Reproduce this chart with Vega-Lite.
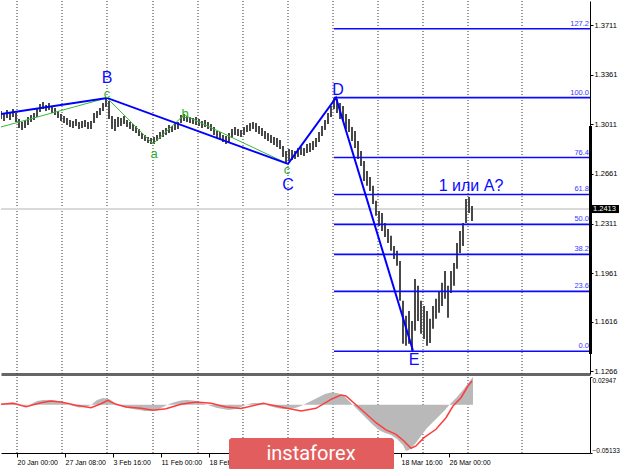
{
  "$schema": "https://vega.github.io/schema/vega-lite/v6.json",
  "padding": 0,
  "background": "white",
  "spacing": 1,
  "config": {
    "view": {"stroke": null},
    "font": "Liberation Sans",
    "axis": {"labelFont": "Liberation Sans", "labelFontSize": 7.5, "labelColor": "#000", "domainColor": "#000", "tickColor": "#000"}
  },
  "datasets": {
    "grid": [{"g":16},{"g":61},{"g":106},{"g":152},{"g":197},{"g":242},{"g":287},{"g":332},{"g":377},{"g":422},{"g":467},{"g":521}],
    "fib": [{"lvl":"127.2","p":1.3687},{"lvl":"100.0","p":1.3200},{"lvl":"76.4","p":1.2777},{"lvl":"61.8","p":1.2516},{"lvl":"50.0","p":1.2305},{"lvl":"38.2","p":1.2093},{"lvl":"23.6","p":1.1832},{"lvl":"0.0","p":1.1409}],
    "wave": [{"i":0,"p":1.3085},{"i":106,"p":1.3198},{"i":287,"p":1.2732},{"i":335,"p":1.3200},{"i":412,"p":1.1412}],
    "sub": [{"i":0,"p":1.2993},{"i":106,"p":1.3198},{"i":152,"p":1.2873},{"i":183,"p":1.3078},{"i":287,"p":1.2732}],
    "waveLabels": [{"t":"B","i":106,"p":1.3342},{"t":"C","i":287,"p":1.2580},{"t":"D","i":337,"p":1.3254},{"t":"E","i":413,"p":1.1348},{"t":"1 или A?","i":470,"p":1.2577}],
    "subLabels": [{"t":"c","i":106,"p":1.3224},{"t":"a","i":153,"p":1.2802},{"t":"b","i":184,"p":1.3085},{"t":"c","i":286,"p":1.2692}],
    "bars": [
      {"i":0,"h":1.3106,"l":1.3050},{"i":3,"h":1.3092,"l":1.3035},{"i":6,"h":1.3113,"l":1.3057},{"i":9,"h":1.3099,"l":1.3042},
      {"i":12,"h":1.3120,"l":1.3064},{"i":15,"h":1.3092,"l":1.3028},{"i":18,"h":1.3050,"l":1.2986},{"i":21,"h":1.3028,"l":1.2972},
      {"i":24,"h":1.3042,"l":1.2986},{"i":27,"h":1.3064,"l":1.3007},{"i":30,"h":1.3078,"l":1.3028},{"i":33,"h":1.3092,"l":1.3042},
      {"i":36,"h":1.3120,"l":1.3064},{"i":39,"h":1.3155,"l":1.3099},{"i":42,"h":1.3170,"l":1.3120},{"i":45,"h":1.3148,"l":1.3106},
      {"i":48,"h":1.3162,"l":1.3113},{"i":51,"h":1.3141,"l":1.3092},{"i":54,"h":1.3127,"l":1.3078},{"i":57,"h":1.3106,"l":1.3057},
      {"i":60,"h":1.3085,"l":1.3035},{"i":63,"h":1.3071,"l":1.3021},{"i":66,"h":1.3057,"l":1.3007},{"i":69,"h":1.3042,"l":1.2993},
      {"i":72,"h":1.3035,"l":1.2986},{"i":75,"h":1.3050,"l":1.3000},{"i":78,"h":1.3028,"l":1.2979},{"i":81,"h":1.3035,"l":1.2986},
      {"i":84,"h":1.3042,"l":1.2993},{"i":87,"h":1.3028,"l":1.2979},{"i":90,"h":1.3035,"l":1.2979},{"i":93,"h":1.3092,"l":1.3021},
      {"i":96,"h":1.3106,"l":1.3057},{"i":99,"h":1.3127,"l":1.3078},{"i":102,"h":1.3162,"l":1.3106},{"i":105,"h":1.3205,"l":1.3134},
      {"i":108,"h":1.3177,"l":1.3050},{"i":111,"h":1.3071,"l":1.2979},{"i":114,"h":1.3050,"l":1.2965},{"i":117,"h":1.3064,"l":1.2993},
      {"i":120,"h":1.3057,"l":1.3000},{"i":123,"h":1.3071,"l":1.3014},{"i":126,"h":1.3042,"l":1.2993},{"i":129,"h":1.3028,"l":1.2979},
      {"i":132,"h":1.3014,"l":1.2965},{"i":135,"h":1.3000,"l":1.2951},{"i":138,"h":1.2979,"l":1.2930},{"i":141,"h":1.2951,"l":1.2908},
      {"i":144,"h":1.2937,"l":1.2894},{"i":147,"h":1.2922,"l":1.2880},{"i":150,"h":1.2915,"l":1.2873},{"i":153,"h":1.2922,"l":1.2873},
      {"i":156,"h":1.2937,"l":1.2894},{"i":159,"h":1.2958,"l":1.2908},{"i":162,"h":1.2972,"l":1.2922},{"i":165,"h":1.2986,"l":1.2937},
      {"i":168,"h":1.3007,"l":1.2951},{"i":171,"h":1.3000,"l":1.2958},{"i":174,"h":1.3021,"l":1.2972},{"i":177,"h":1.3028,"l":1.2979},
      {"i":180,"h":1.3078,"l":1.3021},{"i":183,"h":1.3085,"l":1.3035},{"i":186,"h":1.3071,"l":1.3028},{"i":189,"h":1.3064,"l":1.3021},
      {"i":192,"h":1.3057,"l":1.3014},{"i":195,"h":1.3064,"l":1.3007},{"i":198,"h":1.3050,"l":1.3000},{"i":201,"h":1.3035,"l":1.2986},
      {"i":204,"h":1.3042,"l":1.2993},{"i":207,"h":1.3028,"l":1.2979},{"i":210,"h":1.3014,"l":1.2965},{"i":213,"h":1.2993,"l":1.2937},
      {"i":216,"h":1.2965,"l":1.2915},{"i":219,"h":1.2958,"l":1.2908},{"i":222,"h":1.2937,"l":1.2887},{"i":225,"h":1.2930,"l":1.2873},
      {"i":228,"h":1.2951,"l":1.2880},{"i":231,"h":1.2979,"l":1.2915},{"i":234,"h":1.2993,"l":1.2937},{"i":237,"h":1.2979,"l":1.2930},
      {"i":240,"h":1.2972,"l":1.2922},{"i":243,"h":1.2993,"l":1.2937},{"i":246,"h":1.3007,"l":1.2958},{"i":249,"h":1.3021,"l":1.2965},
      {"i":252,"h":1.3028,"l":1.2979},{"i":255,"h":1.3021,"l":1.2958},{"i":258,"h":1.3000,"l":1.2944},{"i":261,"h":1.2986,"l":1.2930},
      {"i":264,"h":1.2965,"l":1.2908},{"i":267,"h":1.2951,"l":1.2894},{"i":270,"h":1.2937,"l":1.2880},{"i":273,"h":1.2922,"l":1.2866},
      {"i":276,"h":1.2915,"l":1.2852},{"i":279,"h":1.2901,"l":1.2838},{"i":282,"h":1.2859,"l":1.2781},{"i":285,"h":1.2824,"l":1.2732},
      {"i":288,"h":1.2838,"l":1.2753},{"i":291,"h":1.2831,"l":1.2760},{"i":294,"h":1.2824,"l":1.2767},{"i":297,"h":1.2845,"l":1.2781},
      {"i":300,"h":1.2852,"l":1.2795},{"i":303,"h":1.2845,"l":1.2788},{"i":306,"h":1.2873,"l":1.2809},{"i":309,"h":1.2880,"l":1.2817},
      {"i":312,"h":1.2894,"l":1.2831},{"i":315,"h":1.2915,"l":1.2852},{"i":318,"h":1.2958,"l":1.2887},{"i":321,"h":1.3000,"l":1.2930},
      {"i":324,"h":1.3042,"l":1.2972},{"i":327,"h":1.3092,"l":1.3014},{"i":330,"h":1.3141,"l":1.3064},{"i":333,"h":1.3198,"l":1.3120},
      {"i":336,"h":1.3191,"l":1.3092},{"i":339,"h":1.3162,"l":1.3050},{"i":342,"h":1.3141,"l":1.3035},{"i":345,"h":1.3085,"l":1.2979},
      {"i":348,"h":1.3050,"l":1.2958},{"i":351,"h":1.2993,"l":1.2894},{"i":354,"h":1.2965,"l":1.2845},{"i":357,"h":1.2894,"l":1.2767},
      {"i":360,"h":1.2824,"l":1.2718},{"i":363,"h":1.2753,"l":1.2612},{"i":366,"h":1.2682,"l":1.2577},{"i":369,"h":1.2640,"l":1.2541},
      {"i":372,"h":1.2577,"l":1.2449},{"i":375,"h":1.2471,"l":1.2365},{"i":378,"h":1.2400,"l":1.2294},{"i":381,"h":1.2386,"l":1.2259},
      {"i":384,"h":1.2315,"l":1.2216},{"i":387,"h":1.2273,"l":1.2174},{"i":390,"h":1.2224,"l":1.2118},{"i":393,"h":1.2153,"l":1.2061},
      {"i":396,"h":1.2118,"l":1.2012},{"i":399,"h":1.2047,"l":1.1765},{"i":402,"h":1.1765,"l":1.1461},{"i":405,"h":1.1659,"l":1.1447},
      {"i":408,"h":1.1694,"l":1.1461},{"i":411,"h":1.1623,"l":1.1412},{"i":414,"h":1.1920,"l":1.1553},{"i":417,"h":1.1871,"l":1.1623},
      {"i":420,"h":1.1765,"l":1.1532},{"i":423,"h":1.1729,"l":1.1496},{"i":426,"h":1.1694,"l":1.1447},{"i":429,"h":1.1638,"l":1.1468},
      {"i":432,"h":1.1729,"l":1.1567},{"i":435,"h":1.1779,"l":1.1638},{"i":438,"h":1.1835,"l":1.1680},{"i":441,"h":1.1892,"l":1.1729},
      {"i":444,"h":1.1976,"l":1.1779},{"i":447,"h":1.1871,"l":1.1645},{"i":450,"h":1.1976,"l":1.1821},{"i":453,"h":1.2033,"l":1.1871},
      {"i":456,"h":1.2174,"l":1.1991},{"i":459,"h":1.2259,"l":1.2103},{"i":462,"h":1.2315,"l":1.2153},{"i":465,"h":1.2485,"l":1.2315},
      {"i":468,"h":1.2499,"l":1.2386},{"i":471,"h":1.2435,"l":1.2329}
    ],
    "macd": [
      {"i":0,"m":0.00076},{"i":6,"m":0.00183},{"i":12,"m":0.00236},{"i":18,"m":0.00076},{"i":24,"m":-0.00136},{"i":30,"m":0.00076},
      {"i":36,"m":0.00395},{"i":42,"m":0.00502},{"i":48,"m":0.00502},{"i":54,"m":0.00448},{"i":60,"m":0.00289},{"i":66,"m":0.00076},
      {"i":72,"m":-0.00136},{"i":78,"m":-0.00296},{"i":84,"m":-0.00243},{"i":90,"m":-0.00030},{"i":96,"m":0.00502},{"i":102,"m":0.00714},
      {"i":108,"m":0.00608},{"i":114,"m":0.00183},{"i":120,"m":-0.00136},{"i":126,"m":-0.00349},{"i":132,"m":-0.00455},{"i":138,"m":-0.00561},
      {"i":144,"m":-0.00668},{"i":150,"m":-0.00668},{"i":156,"m":-0.00561},{"i":162,"m":-0.00243},{"i":168,"m":0.00076},{"i":174,"m":0.00289},
      {"i":180,"m":0.00448},{"i":186,"m":0.00502},{"i":192,"m":0.00448},{"i":198,"m":0.00289},{"i":204,"m":0.00076},{"i":210,"m":-0.00136},
      {"i":216,"m":-0.00349},{"i":222,"m":-0.00455},{"i":228,"m":-0.00561},{"i":234,"m":-0.00455},{"i":240,"m":-0.00243},{"i":246,"m":0.00023},
      {"i":252,"m":0.00183},{"i":258,"m":0.00183},{"i":264,"m":0.00023},{"i":270,"m":-0.00190},{"i":276,"m":-0.00349},{"i":282,"m":-0.00455},
      {"i":288,"m":-0.00455},{"i":294,"m":-0.00349},{"i":300,"m":-0.00136},{"i":306,"m":0.00183},{"i":312,"m":0.00502},{"i":318,"m":0.00821},
      {"i":324,"m":0.01140},{"i":330,"m":0.01299},{"i":336,"m":0.01246},{"i":342,"m":0.01033},{"i":348,"m":0.00395},{"i":354,"m":-0.00243},
      {"i":360,"m":-0.00880},{"i":366,"m":-0.01518},{"i":372,"m":-0.02156},{"i":378,"m":-0.02688},{"i":384,"m":-0.03007},{"i":390,"m":-0.03220},
      {"i":396,"m":-0.03645},{"i":402,"m":-0.04283},{"i":405,"m":-0.04921},{"i":408,"m":-0.04814},{"i":414,"m":-0.04176},{"i":420,"m":-0.03326},
      {"i":426,"m":-0.02475},{"i":432,"m":-0.01837},{"i":438,"m":-0.01199},{"i":444,"m":-0.00561},{"i":450,"m":0.00183},{"i":456,"m":0.00821},
      {"i":462,"m":0.01565},{"i":468,"m":0.02415},{"i":472,"m":0.02947}
    ],
    "sig": [
      {"i":0,"s":0.00045},{"i":12,"s":0.00151},{"i":25,"s":-0.00211},{"i":40,"s":0.00215},{"i":50,"s":0.00395},{"i":60,"s":0.00289},
      {"i":75,"s":-0.00062},{"i":90,"s":-0.00317},{"i":100,"s":0.00108},{"i":107,"s":0.00470},{"i":115,"s":0.00045},{"i":125,"s":-0.00243},
      {"i":140,"s":-0.00381},{"i":152,"s":-0.00593},{"i":165,"s":-0.00423},{"i":180,"s":0.00045},{"i":195,"s":0.00289},{"i":210,"s":0.00151},
      {"i":225,"s":-0.00243},{"i":240,"s":-0.00402},{"i":262,"s":0.00151},{"i":280,"s":-0.00243},{"i":300,"s":-0.00668},{"i":315,"s":-0.00381},
      {"i":330,"s":0.00576},{"i":340,"s":0.01033},{"i":345,"s":0.00927},{"i":360,"s":-0.00487},{"i":375,"s":-0.01912},{"i":385,"s":-0.02668},
      {"i":395,"s":-0.03145},{"i":403,"s":-0.03857},{"i":410,"s":-0.04634},{"i":415,"s":-0.04389},{"i":423,"s":-0.03506},{"i":435,"s":-0.02614},
      {"i":445,"s":-0.01380},{"i":452,"s":-0.00136},{"i":460,"s":0.00746},{"i":467,"s":0.01990},{"i":471,"s":0.02522}
    ]
  },
  "vconcat": [
    {
      "width": 589,
      "height": 373,
      "layer": [
        {
          "data": {"name": "grid"},
          "mark": {"type": "rule", "color": "#333", "strokeWidth": 1, "strokeDash": [1, 2]},
          "encoding": {
            "x": {"field": "g", "type": "quantitative", "title": null,
                  "scale": {"domain": [0, 589], "nice": false, "zero": false},
                  "axis": {"orient": "bottom", "labels": false, "ticks": false, "grid": false, "domainColor": "#666", "domainWidth": 3, "title": null}}
          }
        },
        {
          "data": {"name": "fib"},
          "mark": {"type": "rule", "color": "#d8d8d8", "strokeWidth": 1.5},
          "encoding": {"y": {"datum": 1.2413, "type": "quantitative"}}
        },
        {
          "data": {"name": "bars"},
          "mark": {"type": "rule", "color": "#484848", "strokeWidth": 2, "clip": true},
          "encoding": {
            "x": {"field": "i", "type": "quantitative", "title": null},
            "y": {"field": "h", "type": "quantitative", "title": null,
                  "scale": {"domain": [1.12482, 1.38826], "nice": false, "zero": false},
                  "axis": {"orient": "right", "values": [1.3711,1.3536,1.3361,1.3186,1.3011,1.2836,1.2661,1.2486,1.2311,1.2136,1.1961,1.1791,1.1616,1.1441,1.1266],
                           "format": ".4f", "tickSize": 3, "labelPadding": 1, "grid": false, "title": null}},
            "y2": {"field": "l"}
          }
        },
        {
          "data": {"name": "fib"},
          "mark": {"type": "rule", "color": "#0a0aff", "strokeWidth": 1.6},
          "encoding": {
            "x": {"datum": 333},
            "x2": {"datum": 589},
            "y": {"field": "p", "type": "quantitative", "title": null}
          }
        },
        {
          "data": {"name": "fib"},
          "mark": {"type": "text", "color": "#3a3aff", "fontSize": 7.5, "align": "right", "baseline": "bottom", "dy": -1},
          "encoding": {
            "x": {"datum": 588},
            "y": {"field": "p", "type": "quantitative", "title": null},
            "text": {"field": "lvl"}
          }
        },
        {
          "data": {"name": "sub"},
          "mark": {"type": "line", "color": "#38b838", "strokeWidth": 1, "clip": true},
          "encoding": {
            "x": {"field": "i", "type": "quantitative", "title": null},
            "y": {"field": "p", "type": "quantitative", "title": null}
          }
        },
        {
          "data": {"name": "wave"},
          "mark": {"type": "line", "color": "#0000ff", "strokeWidth": 2, "clip": true},
          "encoding": {
            "x": {"field": "i", "type": "quantitative", "title": null},
            "y": {"field": "p", "type": "quantitative", "title": null}
          }
        },
        {
          "data": {"name": "subLabels"},
          "mark": {"type": "text", "color": "#2fae2f", "fontSize": 13, "baseline": "middle", "align": "center"},
          "encoding": {
            "x": {"field": "i", "type": "quantitative", "title": null},
            "y": {"field": "p", "type": "quantitative", "title": null},
            "text": {"field": "t"}
          }
        },
        {
          "data": {"name": "waveLabels"},
          "mark": {"type": "text", "color": "#0a0aff", "fontSize": 16, "baseline": "middle", "align": "center"},
          "encoding": {
            "x": {"field": "i", "type": "quantitative", "title": null},
            "y": {"field": "p", "type": "quantitative", "title": null},
            "text": {"field": "t"}
          }
        },
        {
          "data": {"name": "fib"},
          "mark": {"type": "rule", "color": "#000", "strokeWidth": 2.5},
          "encoding": {"x": {"datum": 589.5}, "y": {"datum": 1.3000}, "y2": {"datum": 1.1390}}
        },
        {
          "data": {"values": [{"p": 1.2413}]},
          "mark": {"type": "rect", "color": "#000"},
          "encoding": {"x": {"datum": 590}, "x2": {"datum": 618}, "y": {"datum": 1.2442}, "y2": {"datum": 1.2385}}
        },
        {
          "data": {"values": [{"p": 1.2413}]},
          "mark": {"type": "text", "color": "#fff", "fontSize": 7.5, "align": "left", "baseline": "middle", "dx": 1},
          "encoding": {"x": {"datum": 591}, "y": {"field": "p", "type": "quantitative", "title": null}, "text": {"field": "p", "type": "quantitative", "format": ".4f"}}
        }
      ]
    },
    {
      "width": 589,
      "height": 76,
      "layer": [
        {
          "data": {"name": "grid"},
          "mark": {"type": "rule", "color": "#333", "strokeWidth": 1, "strokeDash": [1, 2]},
          "encoding": {
            "x": {"field": "g", "type": "quantitative", "title": null,
                  "scale": {"domain": [0, 589], "nice": false, "zero": false},
                  "axis": {"orient": "bottom", "values": [16,64,112,160,208,400,448], "grid": false, "tickSize": 4, "labelAlign": "left", "labelPadding": 1, "labelFlush": false, "labelFontSize": 7, "title": null,
                           "labelExpr": "datum.value==16?'20 Jan 00:00':datum.value==64?'27 Jan 08:00':datum.value==112?'3 Feb 16:00':datum.value==160?'11 Feb 00:00':datum.value==208?'18 Feb 08:00':datum.value==400?'18 Mar 16:00':'26 Mar 00:00'"}}
          }
        },
        {
          "data": {"name": "macd"},
          "mark": {"type": "area", "color": "#b9b9b9", "clip": true},
          "encoding": {
            "x": {"field": "i", "type": "quantitative", "title": null},
            "y": {"field": "m", "type": "quantitative", "title": null,
                  "scale": {"domain": [-0.05133, 0.02947], "nice": false, "zero": false},
                  "axis": {"orient": "right", "values": [0.02947, 0, -0.05133], "labelFlush": true, "tickSize": 2, "labelPadding": 0, "labelFontSize": 6.5, "grid": false, "title": null,
                           "labelExpr": "datum.value==0?'0.00':format(datum.value,'.5f')"}},
            "y2": {"datum": 0}
          }
        },
        {
          "data": {"name": "sig"},
          "mark": {"type": "line", "color": "#ff3c3c", "strokeWidth": 1.5, "clip": true},
          "encoding": {
            "x": {"field": "i", "type": "quantitative", "title": null},
            "y": {"field": "s", "type": "quantitative", "title": null}
          }
        },
        {
          "data": {"values": [{"t": "instaforex"}]},
          "mark": {"type": "rect", "color": "#e25e5e", "cornerRadius": 3},
          "encoding": {"x": {"datum": 228}, "x2": {"datum": 393}, "y": {"datum": -0.0354}, "y2": {"datum": -0.0700}}
        },
        {
          "data": {"values": [{"t": "instaforex"}]},
          "mark": {"type": "text", "color": "#ffffff", "font": "Roboto", "fontSize": 20, "align": "center", "baseline": "middle"},
          "encoding": {"x": {"datum": 310}, "y": {"datum": -0.0521}, "text": {"field": "t"}}
        }
      ]
    }
  ]
}
